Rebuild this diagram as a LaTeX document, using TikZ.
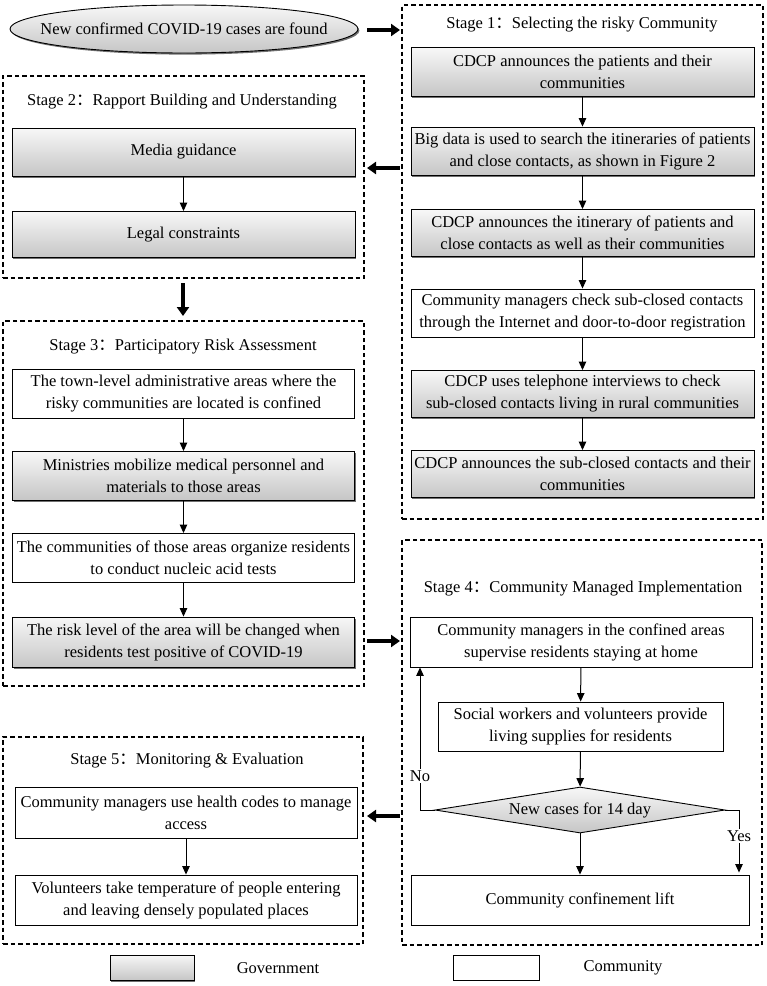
\documentclass[tikz,border=0pt]{standalone}
\usepackage{fontspec}
\setmainfont{Liberation Serif}
\newfontfamily\cjk{Noto Sans CJK SC}
\usetikzlibrary{arrows.meta,shapes.geometric,shadows}
\newcommand{\colonfw}{{\cjk ：}}
\begin{document}
\begin{tikzpicture}[x=1pt,y=-1pt,
  font=\fontsize{16.5}{22}\selectfont,
  stagebox/.style={draw,dash pattern=on 4.5pt off 3pt,line width=1.1pt,inner sep=0pt},
  gbox/.style={draw,line width=0.9pt,top color=gray!6,bottom color=gray!45,
     drop shadow={shadow xshift=1.4pt,shadow yshift=-1.6pt,fill=black!70,opacity=0.8},
     inner sep=0pt,align=center},
  wbox/.style={draw,line width=0.9pt,fill=white,inner sep=0pt,align=center},
  arr/.style={line width=1pt,-{Triangle[width=7.5pt,length=8.5pt]}},
  bigarr/.style={line width=4.5pt,-{Triangle[width=12pt,length=9pt]}},
  ttl/.style={inner sep=0pt},
  lbl/.style={fill=white,inner sep=1.5pt},
]
\useasboundingbox (0,0) rectangle (767,986);

% ---------- stage containers ----------
\node[stagebox,minimum width=361pt,minimum height=514pt] (s1) at (582.5,262) {};
\node[stagebox,minimum width=361pt,minimum height=202pt] (s2) at (183.5,177) {};
\node[stagebox,minimum width=361pt,minimum height=365pt] (s3) at (183.5,503.5) {};
\node[stagebox,minimum width=360pt,minimum height=405pt] (s4) at (582,742.5) {};
\node[stagebox,minimum width=360pt,minimum height=207pt] (s5) at (183,840.5) {};

% ---------- start ellipse ----------
\node[ellipse,draw,line width=0.9pt,top color=gray!6,bottom color=gray!45,
      drop shadow={shadow xshift=1.4pt,shadow yshift=-1.6pt,fill=black!70,opacity=0.8},
      minimum width=348pt,minimum height=48pt,inner sep=0pt] (start) at (184,29)
      {\makebox[0pt]{New confirmed COVID-19 cases are found}};

% ---------- titles ----------
\node[ttl] (t1) at (582,25) {Stage 1\colonfw Selecting the risky Community};
\node[ttl] (t2) at (182,102) {Stage 2\colonfw Rapport Building and Understanding};
\node[ttl] (t3) at (183,347) {Stage 3\colonfw Participatory Risk Assessment};
\node[ttl] (t4) at (583,589) {Stage 4\colonfw Community Managed Implementation};
\node[ttl] (t5) at (187,761) {Stage 5\colonfw Monitoring \& Evaluation};

% ---------- stage 1 ----------
\node[gbox,minimum width=343pt,minimum height=49pt] (b11) at (582.5,72)
  {CDCP announces the patients and their\\communities};
\node[gbox,minimum width=343pt,minimum height=48pt] (b12) at (582.5,151)
  {Big data is used to search the itineraries of patients\\and close contacts, as shown in Figure 2};
\node[gbox,minimum width=343pt,minimum height=47pt] (b13) at (582.5,233)
  {CDCP announces the itinerary of patients and\\close contacts as well as their communities};
\node[wbox,minimum width=343pt,minimum height=48pt] (b14) at (582.5,313)
  {Community managers check sub-closed contacts\\through the Internet and door-to-door registration};
\node[gbox,minimum width=343pt,minimum height=47pt] (b15) at (582.5,394)
  {CDCP uses telephone interviews to check\\sub-closed contacts living in rural communities};
\node[gbox,minimum width=343pt,minimum height=47pt] (b16) at (582.5,474)
  {CDCP announces the sub-closed contacts and their\\communities};
\draw[arr] (b11) -- (b12);
\draw[arr] (b12) -- (b13);
\draw[arr] (b13) -- (b14);
\draw[arr] (b14) -- (b15);
\draw[arr] (b15) -- (b16);

% ---------- stage 2 ----------
\node[gbox,minimum width=343pt,minimum height=48pt] (b21) at (183.5,152) {Media guidance};
\node[gbox,minimum width=343pt,minimum height=46pt] (b22) at (183.5,234.5) {Legal constraints};
\draw[arr] (b21) -- (b22);

% ---------- stage 3 ----------
\node[wbox,minimum width=342pt,minimum height=49pt] (b31) at (183.5,394)
  {The town-level administrative areas where the\\risky communities are located is confined};
\node[gbox,minimum width=342pt,minimum height=49pt] (b32) at (183.5,476)
  {Ministries mobilize medical personnel and\\materials to those areas};
\node[wbox,minimum width=342pt,minimum height=49pt] (b33) at (183.5,558)
  {The communities of those areas organize residents\\to conduct nucleic acid tests};
\node[gbox,minimum width=342pt,minimum height=50pt] (b34) at (183.5,642)
  {The risk level of the area will be changed when\\residents test positive of COVID-19};
\draw[arr] (b31) -- (b32);
\draw[arr] (b32) -- (b33);
\draw[arr] (b33) -- (b34);

% ---------- stage 4 ----------
\node[wbox,minimum width=342pt,minimum height=50pt] (b41) at (581,642)
  {Community managers in the confined areas\\supervise residents staying at home};
\node[wbox,minimum width=285pt,minimum height=49pt] (b42) at (580.5,726.5)
  {Social workers and volunteers provide\\living supplies for residents};
\node[diamond,draw,line width=0.9pt,top color=gray!6,bottom color=gray!45,
      aspect=6.3,minimum width=290pt,minimum height=46pt,inner sep=0pt] (dia) at (580,810)
  {New cases for 14 day};
\node[wbox,minimum width=338pt,minimum height=50pt] (b43) at (580,900)
  {Community confinement lift};
\draw[arr] (b41) -- (b42);
\draw[arr] (b42) -- (dia);
\draw[arr] (dia) -- (b43);
\coordinate (noturn) at (420,810);
\coordinate (yesturn) at (739,810);
\draw[arr] (dia.west) -- (noturn) -- node[lbl,pos=0.24] {No} (b41.south -| noturn);
\draw[arr,shorten >=2pt] (dia.east) -- (yesturn) -- node[lbl,pos=0.4] {Yes} (yesturn |- b43.north);

% ---------- stage 5 ----------
\node[wbox,minimum width=342pt,minimum height=51pt] (b51) at (186,812.5)
  {Community managers use health codes to manage\\access};
\node[wbox,minimum width=342pt,minimum height=50pt] (b52) at (186,900)
  {Volunteers take temperature of people entering\\and leaving densely populated places};
\draw[arr] (b51) -- (b52);

% ---------- thick stage arrows ----------
\coordinate (a0s) at (367,30);  \coordinate (a0e) at (400,30);
\coordinate (a1s) at (400,168); \coordinate (a1e) at (367,168);
\coordinate (a2s) at (183,283); \coordinate (a2e) at (183,316);
\coordinate (a3s) at (367,641); \coordinate (a3e) at (400,641);
\coordinate (a4s) at (400,816); \coordinate (a4e) at (367,816);
\draw[bigarr] (a0s) -- (a0e);
\draw[bigarr] (a1s) -- (a1e);
\draw[bigarr] (a2s) -- (a2e);
\draw[bigarr] (a3s) -- (a3e);
\draw[bigarr] (a4s) -- (a4e);

% ---------- legend ----------
\node[gbox,minimum width=84pt,minimum height=25pt] (lg) at (152,967.5) {};
\node (lgt) at (278,968) {Government};
\node[wbox,minimum width=86pt,minimum height=25pt] (lc) at (496,968) {};
\node (lct) at (623,968) {Community};
\end{tikzpicture}
\end{document}
